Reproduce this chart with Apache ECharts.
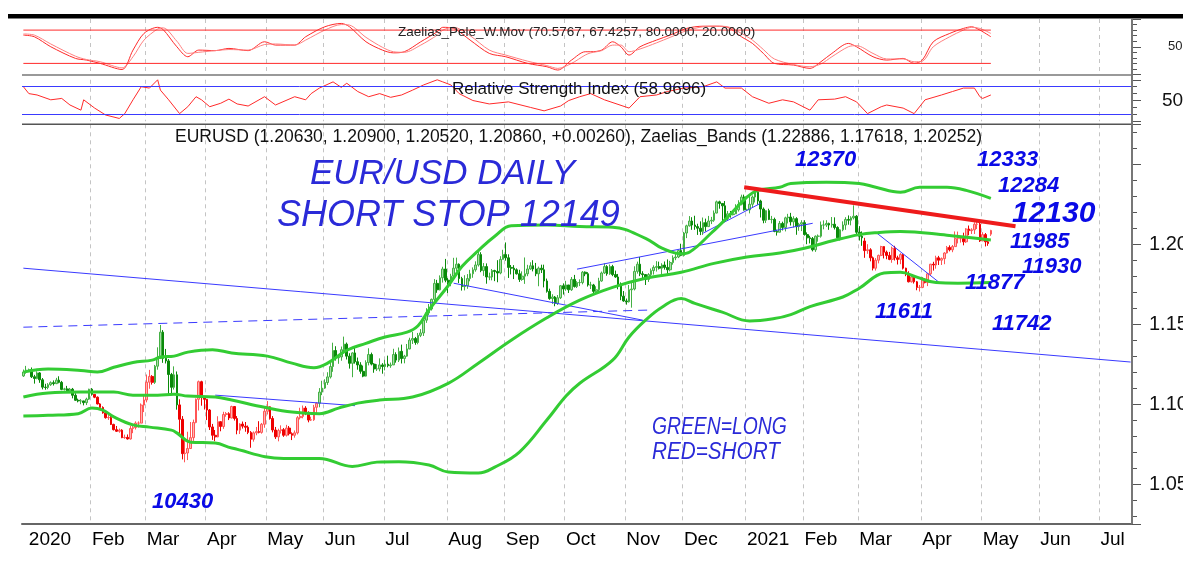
<!DOCTYPE html>
<html>
<head>
<meta charset="utf-8">
<script src="https://cdn.jsdelivr.net/npm/echarts@6.0.0/dist/echarts.min.js"></script>
<style>
  html, body { margin: 0; background: #fff; }
  #chart { width: 1183px; height: 566px; }
</style>
</head>
<body>
<div id="chart"></div>
<script>
// weekday categories, 30 Dec 2019 .. 16 Jul 2021
const days = []
for (let t = Date.UTC(2019, 11, 30); t <= Date.UTC(2021, 6, 16); t += 86400000) {
    const d = new Date(t)
    if (d.getUTCDay() % 6 !== 0) days.push(d.toISOString().slice(0, 10))
}

const monthNames = ['Jan', 'Feb', 'Mar', 'Apr', 'May', 'Jun', 'Jul', 'Aug', 'Sep', 'Oct', 'Nov', 'Dec']

// daily candles in pips: date, open, close, low, high
const candles = [
    ['2019-12-30',11176,11201,11170,11216],['2019-12-31',11201,11213,11190,11239],
    ['2020-01-01',11213,11215,11205,11222],['2020-01-02',11215,11171,11163,11229],['2020-01-03',11171,11160,11128,11183],
    ['2020-01-06',11160,11195,11155,11205],['2020-01-07',11195,11152,11133,11200],['2020-01-08',11152,11106,11092,11163],
    ['2020-01-09',11106,11104,11090,11127],['2020-01-10',11104,11121,11093,11131],['2020-01-13',11121,11134,11114,11142],
    ['2020-01-14',11134,11128,11116,11148],['2020-01-15',11128,11150,11125,11164],['2020-01-16',11150,11136,11130,11174],
    ['2020-01-17',11136,11092,11087,11145],['2020-01-20',11092,11095,11085,11102],['2020-01-21',11095,11083,11075,11114],
    ['2020-01-22',11083,11093,11076,11101],['2020-01-23',11093,11055,11036,11101],['2020-01-24',11055,11024,11020,11068],
    ['2020-01-27',11024,11020,11011,11034],['2020-01-28',11020,11020,10999,11031],['2020-01-29',11020,11009,10992,11019],
    ['2020-01-30',11009,11031,10994,11040],['2020-01-31',11031,11093,11026,11096],
    ['2020-02-03',11093,11061,11053,11100],['2020-02-04',11061,11043,11037,11063],['2020-02-05',11043,11001,10998,11048],
    ['2020-02-06',11001,10979,10966,11006],['2020-02-07',10979,10945,10940,10986],['2020-02-10',10945,10915,10909,10954],
    ['2020-02-11',10915,10916,10901,10933],['2020-02-12',10916,10873,10869,10925],['2020-02-13',10873,10840,10835,10877],
    ['2020-02-14',10840,10830,10826,10863],['2020-02-17',10830,10837,10821,10847],['2020-02-18',10837,10790,10787,10843],
    ['2020-02-19',10790,10792,10783,10809],['2020-02-20',10792,10782,10778,10810],['2020-02-21',10782,10847,10778,10864],
    ['2020-02-24',10847,10853,10818,10868],['2020-02-25',10853,10881,10841,10892],['2020-02-26',10881,10881,10853,10892],
    ['2020-02-27',10881,10994,10880,11004],['2020-02-28',10994,11026,10950,11054],
    ['2020-03-02',11026,11137,11011,11185],['2020-03-03',11137,11173,11096,11214],['2020-03-04',11173,11136,11122,11181],
    ['2020-03-05',11136,11237,11126,11245],['2020-03-06',11237,11285,11215,11355],['2020-03-09',11285,11450,11285,11495],
    ['2020-03-10',11450,11286,11258,11463],['2020-03-11',11286,11270,11254,11345],['2020-03-12',11270,11185,11056,11282],
    ['2020-03-13',11185,11105,11055,11195],['2020-03-16',11105,11183,11091,11236],['2020-03-17',11183,10995,10965,11204],
    ['2020-03-18',10995,10905,10802,11030],['2020-03-19',10905,10690,10654,10925],['2020-03-20',10690,10694,10636,10783],
    ['2020-03-23',10694,10722,10650,10827],['2020-03-24',10722,10790,10723,10888],['2020-03-25',10790,10885,10770,10903],
    ['2020-03-26',10885,11030,10880,11035],['2020-03-27',11030,11140,10960,11147],['2020-03-30',11140,11043,10990,11146],
    ['2020-03-31',11043,11030,10966,11048],
    ['2020-04-01',11030,10963,10900,11032],['2020-04-02',10963,10857,10838,10969],['2020-04-03',10857,10805,10776,10876],
    ['2020-04-06',10805,10795,10768,10838],['2020-04-07',10795,10890,10792,10924],['2020-04-08',10890,10860,10830,10892],
    ['2020-04-09',10860,10935,10845,10952],['2020-04-10',10935,10940,10921,10950],['2020-04-13',10940,10913,10900,10949],
    ['2020-04-14',10913,10985,10911,10990],['2020-04-15',10985,10910,10897,10987],['2020-04-16',10910,10837,10811,10925],
    ['2020-04-17',10837,10875,10813,10880],['2020-04-20',10875,10862,10847,10891],['2020-04-21',10862,10855,10827,10888],
    ['2020-04-22',10855,10823,10812,10866],['2020-04-23',10823,10780,10727,10831],['2020-04-24',10780,10820,10765,10829],
    ['2020-04-27',10820,10828,10805,10857],['2020-04-28',10828,10823,10817,10893],['2020-04-29',10823,10874,10815,10882],
    ['2020-04-30',10874,10955,10852,10974],
    ['2020-05-01',10955,10983,10935,11019],['2020-05-04',10983,10910,10903,10986],['2020-05-05',10910,10838,10823,10925],
    ['2020-05-06',10838,10795,10782,10857],['2020-05-07',10795,10835,10767,10846],['2020-05-08',10835,10840,10816,10867],
    ['2020-05-11',10840,10805,10795,10850],['2020-05-12',10805,10850,10797,10870],['2020-05-13',10850,10815,10804,10863],
    ['2020-05-14',10815,10805,10775,10823],['2020-05-15',10805,10820,10790,10835],['2020-05-18',10820,10915,10810,10925],
    ['2020-05-19',10915,10923,10904,10977],['2020-05-20',10923,10975,10911,10991],['2020-05-21',10975,10945,10931,10987],
    ['2020-05-22',10945,10900,10886,10955],['2020-05-25',10900,10902,10894,10921],['2020-05-26',10902,10980,10895,10995],
    ['2020-05-27',10980,11005,10944,11012],['2020-05-28',11005,11075,10980,11100],['2020-05-29',11075,11100,11056,11146],
    ['2020-06-01',11100,11135,11095,11155],['2020-06-02',11135,11170,11120,11199],['2020-06-03',11170,11235,11160,11257],
    ['2020-06-04',11235,11335,11202,11384],['2020-06-05',11335,11290,11272,11362],['2020-06-08',11290,11295,11252,11311],
    ['2020-06-09',11295,11340,11271,11360],['2020-06-10',11340,11375,11316,11422],['2020-06-11',11375,11300,11279,11385],
    ['2020-06-12',11300,11255,11222,11318],['2020-06-15',11255,11320,11168,11324],['2020-06-16',11320,11265,11253,11355],
    ['2020-06-17',11265,11245,11215,11291],['2020-06-18',11245,11205,11190,11262],['2020-06-19',11205,11175,11168,11241],
    ['2020-06-22',11175,11260,11172,11274],['2020-06-23',11260,11310,11242,11349],['2020-06-24',11310,11250,11242,11322],
    ['2020-06-25',11250,11220,11196,11256],['2020-06-26',11220,11220,11207,11250],['2020-06-29',11220,11245,11205,11286],
    ['2020-06-30',11245,11235,11190,11256],
    ['2020-07-01',11235,11250,11211,11277],['2020-07-02',11250,11240,11230,11303],['2020-07-03',11240,11245,11227,11260],
    ['2020-07-06',11245,11310,11245,11346],['2020-07-07',11310,11275,11259,11324],['2020-07-08',11275,11330,11263,11354],
    ['2020-07-09',11330,11285,11254,11372],['2020-07-10',11285,11300,11255,11308],['2020-07-13',11300,11345,11296,11376],
    ['2020-07-14',11345,11400,11343,11415],['2020-07-15',11400,11410,11376,11452],['2020-07-16',11410,11385,11371,11420],
    ['2020-07-17',11385,11430,11374,11445],['2020-07-20',11430,11445,11419,11469],['2020-07-21',11445,11525,11426,11547],
    ['2020-07-22',11525,11570,11508,11600],['2020-07-23',11570,11595,11555,11626],['2020-07-24',11595,11655,11585,11660],
    ['2020-07-27',11655,11755,11640,11782],['2020-07-28',11755,11715,11696,11777],['2020-07-29',11715,11790,11711,11805],
    ['2020-07-30',11790,11845,11760,11859],['2020-07-31',11845,11775,11762,11908],
    ['2020-08-03',11775,11760,11695,11788],['2020-08-04',11760,11800,11737,11815],['2020-08-05',11800,11850,11795,11915],
    ['2020-08-06',11850,11875,11830,11916],['2020-08-07',11875,11785,11757,11880],['2020-08-10',11785,11735,11710,11796],
    ['2020-08-11',11735,11740,11711,11806],['2020-08-12',11740,11785,11721,11813],['2020-08-13',11785,11815,11768,11840],
    ['2020-08-14',11815,11840,11790,11855],['2020-08-17',11840,11870,11828,11893],['2020-08-18',11870,11935,11860,11966],
    ['2020-08-19',11935,11835,11825,11950],['2020-08-20',11835,11860,11802,11882],['2020-08-21',11860,11795,11753,11880],
    ['2020-08-24',11795,11795,11775,11822],['2020-08-25',11795,11835,11774,11845],['2020-08-26',11835,11830,11769,11840],
    ['2020-08-27',11830,11820,11762,11900],['2020-08-28',11820,11905,11812,11925],['2020-08-31',11905,11935,11905,11965],
    ['2020-09-01',11935,11915,11897,12011],['2020-09-02',11915,11855,11789,11937],['2020-09-03',11855,11850,11811,11870],
    ['2020-09-04',11850,11840,11782,11869],['2020-09-07',11840,11815,11810,11849],['2020-09-08',11815,11780,11764,11840],
    ['2020-09-09',11780,11800,11771,11830],['2020-09-10',11800,11815,11752,11917],['2020-09-11',11815,11845,11800,11871],
    ['2020-09-14',11845,11865,11840,11887],['2020-09-15',11865,11845,11830,11900],['2020-09-16',11845,11815,11800,11883],
    ['2020-09-17',11815,11850,11737,11860],['2020-09-18',11850,11840,11820,11872],['2020-09-21',11840,11770,11730,11872],
    ['2020-09-22',11770,11705,11697,11785],['2020-09-23',11705,11660,11652,11722],['2020-09-24',11660,11670,11627,11687],
    ['2020-09-25',11670,11630,11612,11676],['2020-09-28',11630,11665,11620,11682],['2020-09-29',11665,11740,11657,11745],
    ['2020-09-30',11740,11720,11685,11755],
    ['2020-10-01',11720,11745,11709,11771],['2020-10-02',11745,11715,11695,11738],['2020-10-05',11715,11780,11708,11795],
    ['2020-10-06',11780,11735,11729,11808],['2020-10-07',11735,11760,11726,11769],['2020-10-08',11760,11760,11738,11780],
    ['2020-10-09',11760,11825,11749,11832],['2020-10-12',11825,11815,11800,11830],['2020-10-13',11815,11745,11735,11825],
    ['2020-10-14',11745,11745,11720,11765],['2020-10-15',11745,11705,11688,11752],['2020-10-16',11705,11715,11690,11737],
    ['2020-10-19',11715,11770,11706,11790],['2020-10-20',11770,11820,11765,11829],['2020-10-21',11820,11860,11814,11880],
    ['2020-10-22',11860,11815,11803,11869],['2020-10-23',11815,11860,11809,11873],['2020-10-26',11860,11810,11800,11871],
    ['2020-10-27',11810,11795,11790,11835],['2020-10-28',11795,11745,11718,11814],['2020-10-29',11745,11675,11650,11761],
    ['2020-10-30',11675,11645,11640,11707],
    ['2020-11-02',11645,11640,11622,11660],['2020-11-03',11640,11715,11635,11745],['2020-11-04',11715,11720,11603,11770],
    ['2020-11-05',11720,11830,11711,11862],['2020-11-06',11830,11875,11816,11891],['2020-11-09',11875,11815,11800,11920],
    ['2020-11-10',11815,11810,11780,11831],['2020-11-11',11810,11780,11745,11812],['2020-11-12',11780,11810,11764,11819],
    ['2020-11-13',11810,11835,11797,11848],['2020-11-16',11835,11855,11810,11868],['2020-11-17',11855,11860,11829,11894],
    ['2020-11-18',11860,11850,11842,11891],['2020-11-19',11850,11870,11800,11881],['2020-11-20',11870,11855,11841,11892],
    ['2020-11-23',11855,11840,11802,11905],['2020-11-24',11840,11885,11830,11896],['2020-11-25',11885,11915,11872,11930],
    ['2020-11-26',11915,11920,11900,11941],['2020-11-27',11920,11960,11913,11965],['2020-11-30',11960,11930,11925,12003],
    ['2020-12-01',11930,12070,11923,12077],['2020-12-02',12070,12115,12038,12122],['2020-12-03',12115,12145,12110,12176],
    ['2020-12-04',12145,12120,12090,12169],['2020-12-07',12120,12110,12090,12178],['2020-12-08',12110,12100,12058,12128],
    ['2020-12-09',12100,12080,12057,12143],['2020-12-10',12080,12135,12058,12167],['2020-12-11',12135,12110,12080,12160],
    ['2020-12-14',12110,12145,12110,12177],['2020-12-15',12145,12150,12126,12171],['2020-12-16',12150,12195,12140,12211],
    ['2020-12-17',12195,12265,12193,12273],['2020-12-18',12265,12255,12222,12272],['2020-12-21',12255,12240,12130,12251],
    ['2020-12-22',12240,12160,12153,12270],['2020-12-23',12160,12190,12152,12208],['2020-12-24',12190,12185,12166,12208],
    ['2020-12-25',12185,12190,12180,12196],['2020-12-28',12190,12215,12192,12250],['2020-12-29',12215,12250,12204,12275],
    ['2020-12-30',12250,12295,12243,12310],['2020-12-31',12295,12215,12210,12310],
    ['2021-01-01',12215,12215,12208,12222],['2021-01-04',12215,12250,12193,12310],['2021-01-05',12250,12295,12231,12305],
    ['2021-01-06',12295,12325,12261,12349],['2021-01-07',12325,12270,12247,12340],['2021-01-08',12270,12220,12167,12278],
    ['2021-01-11',12220,12150,12131,12230],['2021-01-12',12150,12210,12133,12212],['2021-01-13',12210,12155,12151,12222],
    ['2021-01-14',12155,12155,12130,12177],['2021-01-15',12155,12080,12075,12166],['2021-01-18',12080,12075,12054,12091],
    ['2021-01-19',12075,12130,12075,12145],['2021-01-20',12130,12105,12086,12141],['2021-01-21',12105,12165,12080,12172],
    ['2021-01-22',12165,12170,12130,12190],['2021-01-25',12170,12140,12117,12196],['2021-01-26',12140,12160,12105,12175],
    ['2021-01-27',12160,12110,12059,12169],['2021-01-28',12110,12125,12084,12134],['2021-01-29',12125,12135,12082,12150],
    ['2021-02-01',12135,12060,12054,12150],['2021-02-02',12060,12040,12000,12074],['2021-02-03',12040,12035,12005,12053],
    ['2021-02-04',12035,11965,11955,12045],['2021-02-05',11965,12050,11952,12055],['2021-02-08',12050,12050,12016,12061],
    ['2021-02-09',12050,12120,12041,12142],['2021-02-10',12120,12120,12093,12149],['2021-02-11',12120,12130,12108,12150],
    ['2021-02-12',12130,12120,12090,12135],['2021-02-15',12120,12125,12104,12170],['2021-02-16',12125,12105,12092,12168],
    ['2021-02-17',12105,12040,12022,12112],['2021-02-18',12040,12090,12023,12094],['2021-02-19',12090,12120,12081,12143],
    ['2021-02-22',12120,12155,12090,12169],['2021-02-23',12155,12150,12122,12180],['2021-02-24',12150,12165,12118,12175],
    ['2021-02-25',12165,12175,12155,12243],['2021-02-26',12175,12075,12064,12182],
    ['2021-03-01',12075,12050,12023,12113],['2021-03-02',12050,12040,11990,12080],['2021-03-03',12020,11960,11915,12040],
    ['2021-03-04',11960,11965,11940,12000],['2021-03-05',11965,11915,11893,11975],['2021-03-08',11915,11850,11836,11923],
    ['2021-03-09',11850,11900,11835,11913],['2021-03-10',11900,11930,11880,11935],['2021-03-11',11930,11985,11925,11990],
    ['2021-03-12',11985,11950,11911,11988],['2021-03-15',11950,11930,11906,11960],['2021-03-16',11930,11905,11900,11952],
    ['2021-03-17',11905,11975,11884,11985],['2021-03-18',11975,11915,11898,11990],['2021-03-19',11915,11905,11873,11928],
    ['2021-03-22',11905,11935,11875,11944],['2021-03-23',11935,11850,11842,11940],['2021-03-24',11850,11815,11800,11853],
    ['2021-03-25',11815,11765,11761,11831],['2021-03-26',11765,11795,11760,11803],['2021-03-29',11795,11765,11754,11800],
    ['2021-03-30',11765,11730,11712,11770],['2021-03-31',11730,11730,11704,11745],
    ['2021-04-01',11730,11780,11725,11795],['2021-04-02',11780,11760,11755,11787],['2021-04-05',11760,11815,11738,11820],
    ['2021-04-06',11815,11875,11808,11877],['2021-04-07',11875,11870,11835,11890],['2021-04-08',11870,11915,11847,11928],
    ['2021-04-09',11915,11900,11870,11927],['2021-04-12',11900,11910,11870,11917],['2021-04-13',11910,11945,11875,11950],
    ['2021-04-14',11945,11980,11942,11989],['2021-04-15',11980,11965,11955,11993],['2021-04-16',11965,11985,11950,11995],
    ['2021-04-19',11985,12035,11985,12080],['2021-04-20',12035,12035,12005,12079],['2021-04-21',12035,12035,12010,12048],
    ['2021-04-22',12035,12015,11993,12072],['2021-04-23',12015,12095,12008,12100],['2021-04-26',12095,12085,12056,12117],
    ['2021-04-27',12085,12090,12064,12100],['2021-04-28',12090,12125,12064,12137],['2021-04-29',12125,12125,12095,12150],
    ['2021-04-30',12125,12020,12014,12135],
    ['2021-05-03',12020,12060,12020,12075],['2021-05-04',12060,12015,11986,12070],['2021-05-05',12015,12005,11990,12030],
    ['2021-05-06',12063,12086,12052,12090]
]

// signal regime, each from its start date until the next one
const regimes = [
    ['2019-12-30', 'long'], ['2020-02-04', 'short'], ['2020-03-05', 'long'],
    ['2020-03-18', 'short'], ['2020-05-28', 'long'], ['2021-03-03', 'short']
]

const upperBand = [
    ['2019-12-30',1.1200],['2020-01-10',1.1219],['2020-01-28',1.1210],['2020-02-05',1.1200],['2020-02-13',1.1230],
    ['2020-02-24',1.1260],['2020-03-04',1.1275],['2020-03-09',1.1294],['2020-03-16',1.1300],['2020-03-23',1.1325],
    ['2020-04-03',1.1340],['2020-04-14',1.1320],['2020-05-01',1.1300],['2020-05-14',1.1256],['2020-05-26',1.1228],
    ['2020-06-02',1.1256],['2020-06-11',1.1337],['2020-06-22',1.1380],['2020-07-01',1.1420],['2020-07-13',1.1450],
    ['2020-07-17',1.1490],['2020-07-23',1.1590],['2020-08-03',1.1740],['2020-08-10',1.1860],['2020-08-18',1.1960],
    ['2020-08-26',1.2050],['2020-09-03',1.2115],['2020-09-22',1.2120],['2020-10-08',1.2110],['2020-10-26',1.2106],
    ['2020-11-11',1.2037],['2020-11-19',1.1975],['2020-11-30',1.1940],['2020-12-03',1.1950],['2020-12-15',1.2070],
    ['2020-12-23',1.2170],['2021-01-01',1.2294],['2021-01-07',1.2337],['2021-01-19',1.2356],['2021-01-25',1.2380],
    ['2021-02-11',1.2387],['2021-03-01',1.2380],['2021-03-09',1.2356],['2021-03-22',1.2325],['2021-03-31',1.2356],
    ['2021-04-14',1.2356],['2021-04-23',1.2337],['2021-05-06',1.2287]
]
const middleBand = [
    ['2019-12-30',1.1044],['2020-01-10',1.1070],['2020-01-28',1.1075],['2020-02-13',1.1075],['2020-02-24',1.1056],
    ['2020-03-06',1.1056],['2020-03-16',1.1062],['2020-03-23',1.1050],['2020-04-06',1.1044],['2020-04-14',1.1025],
    ['2020-04-30',1.0980],['2020-05-14',1.0950],['2020-05-28',1.0940],['2020-06-08',1.0975],['2020-06-17',1.1006],
    ['2020-06-29',1.1025],['2020-07-15',1.1044],['2020-08-03',1.1130],['2020-08-18',1.1256],['2020-09-03',1.1400],
    ['2020-09-22',1.1540],['2020-10-08',1.1650],['2020-10-26',1.1730],['2020-11-11',1.1787],['2020-11-30',1.1825],
    ['2020-12-16',1.1880],['2021-01-01',1.1920],['2021-01-19',1.1945],['2021-02-01',1.1975],['2021-02-16',1.2025],
    ['2021-03-01',1.2060],['2021-03-09',1.2072],['2021-03-22',1.2080],['2021-04-14',1.2056],['2021-05-06',1.2027]
]
const lowerBand = [
    ['2019-12-30',1.0925],['2020-01-10',1.0930],['2020-01-27',1.0940],['2020-02-03',1.0975],['2020-02-07',1.0962],
    ['2020-02-13',1.0920],['2020-02-24',1.0870],['2020-03-03',1.0856],['2020-03-13',1.0837],['2020-03-17',1.0820],
    ['2020-03-24',1.0762],['2020-04-06',1.0756],['2020-04-14',1.0725],['2020-05-11',1.0660],['2020-05-28',1.0660],
    ['2020-06-15',1.0610],['2020-06-26',1.0637],['2020-07-08',1.0640],['2020-07-23',1.0619],['2020-08-03',1.0575],
    ['2020-08-18',1.0569],['2020-08-26',1.0606],['2020-09-08',1.0700],['2020-09-22',1.0900],['2020-10-01',1.1050],
    ['2020-10-08',1.1130],['2020-10-26',1.1275],['2020-11-03',1.1420],['2020-11-11',1.1525],['2020-11-19',1.1606],
    ['2020-11-30',1.1660],['2020-12-07',1.1630],['2020-12-21',1.1575],['2021-01-04',1.1520],['2021-01-15',1.1535],
    ['2021-01-25',1.1560],['2021-02-03',1.1610],['2021-02-19',1.1670],['2021-03-01',1.1725],['2021-03-12',1.1820],
    ['2021-03-22',1.1825],['2021-03-30',1.1794],['2021-04-08',1.1760],['2021-04-20',1.1756],['2021-05-06',1.1760]
]

// hand-drawn lines: start and end points
const blueLines = [
    [['2019-12-30',1.1850],['2021-07-16',1.1263]],
    [['2020-04-06',1.1056],['2020-06-16',1.0990]],
    [['2020-08-05',1.1756],['2020-11-10',1.1525]],
    [['2020-10-07',1.1844],['2021-02-04',1.2131]],
    [['2020-12-10',1.2069],['2021-01-08',1.2256]],
    [['2021-03-09',1.2075],['2021-04-09',1.1763]]
]
const dashedLine = [['2019-12-30',1.1481],['2020-11-12',1.1588]]
const redLine = [['2020-12-31',1.2356],['2021-05-19',1.2112]]

// Zaelias_Pele_W.Mov panel
const waveFast = [
    ['2019-12-30',71],['2020-01-03',68],['2020-01-13',50],['2020-01-24',29],['2020-01-30',26],['2020-02-06',20],
    ['2020-02-18',9],['2020-02-24',44],['2020-02-28',74],['2020-03-06',85],['2020-03-10',81],['2020-03-17',50],
    ['2020-03-23',32],['2020-03-27',44],['2020-04-06',43],['2020-04-13',47],['2020-04-22',43],['2020-04-30',59],
    ['2020-05-06',53],['2020-05-15',53],['2020-05-21',68],['2020-06-01',86],['2020-06-09',92],['2020-06-12',86],
    ['2020-06-22',59],['2020-06-30',44],['2020-07-06',39],['2020-07-10',41],['2020-07-20',59],['2020-07-28',77],
    ['2020-07-30',85],['2020-08-05',83],['2020-08-13',62],['2020-08-24',38],['2020-09-01',32],['2020-09-11',20],
    ['2020-09-22',14],['2020-09-28',8],['2020-10-05',26],['2020-10-12',41],['2020-10-14',41],['2020-10-20',44],
    ['2020-10-26',59],['2020-10-29',50],['2020-11-03',35],['2020-11-09',50],['2020-11-17',62],['2020-11-24',71],
    ['2020-12-02',83],['2020-12-10',87],['2020-12-17',87],['2020-12-23',85],['2020-12-30',68],['2021-01-05',56],
    ['2021-01-11',38],['2021-01-15',20],['2021-01-26',17],['2021-02-03',11],['2021-02-09',23],['2021-02-15',38],
    ['2021-02-23',56],['2021-02-26',50],['2021-03-08',32],['2021-03-15',26],['2021-03-23',29],['2021-03-29',20],
    ['2021-04-01',26],['2021-04-07',59],['2021-04-15',74],['2021-04-22',83],['2021-04-27',86],['2021-04-30',80],
    ['2021-05-06',68]
]
const waveSlow = [
    ['2019-12-30',73],['2020-01-03',71],['2020-01-13',55],['2020-01-24',33],['2020-01-30',27],['2020-02-06',23],
    ['2020-02-18',12],['2020-02-24',32],['2020-02-28',62],['2020-03-06',82],['2020-03-10',84],['2020-03-17',60],
    ['2020-03-23',38],['2020-03-27',40],['2020-04-06',43],['2020-04-13',45],['2020-04-22',44],['2020-04-30',54],
    ['2020-05-06',55],['2020-05-15',53],['2020-05-21',62],['2020-06-01',80],['2020-06-09',90],['2020-06-12',89],
    ['2020-06-22',67],['2020-06-30',49],['2020-07-06',41],['2020-07-10',40],['2020-07-20',53],['2020-07-28',71],
    ['2020-07-30',80],['2020-08-05',85],['2020-08-13',70],['2020-08-24',44],['2020-09-01',35],['2020-09-11',24],
    ['2020-09-22',16],['2020-09-28',11],['2020-10-05',20],['2020-10-12',35],['2020-10-14',39],['2020-10-20',43],
    ['2020-10-26',53],['2020-10-29',53],['2020-11-03',41],['2020-11-09',46],['2020-11-17',57],['2020-11-24',67],
    ['2020-12-02',79],['2020-12-10',86],['2020-12-17',87],['2020-12-23',86],['2020-12-30',74],['2021-01-05',62],
    ['2021-01-11',45],['2021-01-15',28],['2021-01-26',18],['2021-02-03',14],['2021-02-09',19],['2021-02-15',32],
    ['2021-02-23',50],['2021-02-26',52],['2021-03-08',38],['2021-03-15',28],['2021-03-23',28],['2021-03-29',23],
    ['2021-04-01',24],['2021-04-07',50],['2021-04-15',68],['2021-04-22',80],['2021-04-27',85],['2021-04-30',83],
    ['2021-05-06',74]
]
const waveLevels = [80, 20]

// Relative Strength Index panel
const rsi = [
    ['2019-12-30',70],['2020-01-01',60],['2020-01-06',58],['2020-01-13',51],['2020-01-17',53],['2020-01-22',43.5],
    ['2020-01-28',36],['2020-01-29',51],['2020-02-04',39],['2020-02-10',29],['2020-02-17',24],['2020-02-19',31],
    ['2020-02-24',51],['2020-02-27',70],['2020-03-03',68],['2020-03-06',80],['2020-03-09',65],['2020-03-12',51],
    ['2020-03-18',31],['2020-03-23',41],['2020-03-26',55.5],['2020-03-30',51],['2020-04-02',41],['2020-04-08',46],
    ['2020-04-13',52],['2020-04-16',45],['2020-04-22',42],['2020-04-30',55.5],['2020-05-06',43.5],['2020-05-15',55.5],
    ['2020-05-21',51],['2020-05-25',60],['2020-05-28',68],['2020-06-04',77],['2020-06-09',69],['2020-06-11',75],
    ['2020-06-17',63],['2020-06-23',55.5],['2020-06-29',60],['2020-07-03',54.6],['2020-07-09',58],['2020-07-15',65],
    ['2020-07-21',72.5],['2020-07-28',80],['2020-07-30',77],['2020-08-04',72.5],['2020-08-07',60],['2020-08-14',50],
    ['2020-08-24',45],['2020-09-02',48],['2020-09-14',40],['2020-09-21',35],['2020-09-29',42],['2020-10-02',50],
    ['2020-10-08',55.5],['2020-10-14',60],['2020-10-21',51],['2020-11-03',39],['2020-11-09',55.5],['2020-11-17',58],
    ['2020-11-23',63],['2020-12-01',68],['2020-12-10',70],['2020-12-17',77],['2020-12-22',68],['2020-12-30',68],
    ['2021-01-05',55.5],['2021-01-13',46],['2021-01-20',51],['2021-01-26',48],['2021-02-03',36],['2021-02-08',51],
    ['2021-02-16',52],['2021-02-22',55.5],['2021-02-26',48],['2021-03-04',31],['2021-03-11',41],['2021-03-15',43.5],
    ['2021-03-23',39],['2021-03-29',31],['2021-04-02',51],['2021-04-12',58],['2021-04-16',63],['2021-04-22',68],
    ['2021-04-28',68],['2021-04-30',55.5],['2021-05-03',53],['2021-05-06',58]
]
const rsiLevels = [70, 30]

// price labels shown on the main axis
const priceTicks = [1.05, 1.10, 1.15, 1.20]

// ---- build ----
const regimeOf = date => {
    let r = regimes[0][1]
    regimes.forEach(([d, s]) => { if (date >= d) r = s })
    return r
}
const longData = days.map(() => '-')
const shortData = days.map(() => '-')
candles.forEach(([d, o, c, l, h]) => {
    const i = days.indexOf(d)
    if (i < 0) return
    const v = [o, c, l, h].map(x => x / 10000)
    if (regimeOf(d) === 'long') longData[i] = v
    else shortData[i] = v
})
const firstDay = candles[0][0]
const lastDay = candles[candles.length - 1][0]

const isMonthStart = i => i > 0 && days[i].slice(0, 7) !== days[i - 1].slice(0, 7)
const isMonday = i => new Date(days[i] + 'T00:00:00Z').getUTCDay() === 1
const monthLabel = d => d.slice(5, 7) === '01' ? d.slice(0, 4) : monthNames[+d.slice(5, 7) - 1]

const SANS = '"Liberation Sans", Arial, sans-serif'
const NARROW = '"Liberation Sans Narrow", "Arial Narrow", "Liberation Sans", sans-serif'
const monthSplit = {
    show: true, interval: isMonthStart, showMinLine: false, showMaxLine: false,
    lineStyle: { color: '#c4c4c4', type: [4, 4], width: 1 }
}

const panelX = gridIndex => ({
    type: 'category', gridIndex, data: days,
    axisLine: { show: false }, axisTick: { show: false }, axisLabel: { show: false },
    splitLine: monthSplit
})
const rightY = (gridIndex, extra) => Object.assign({
    type: 'value', gridIndex, position: 'right', scale: true,
    splitLine: { show: false },
    axisLine: { show: false },
    axisTick: { show: true, length: 9, lineStyle: { color: '#555' } },
    minorTick: { show: true, length: 5, lineStyle: { color: '#555' } }
}, extra)

const line = (data, color, width, extra) => Object.assign({
    type: 'line', xAxisIndex: 2, yAxisIndex: 2, data, symbol: 'none', silent: true,
    lineStyle: { color, width }, z: 4
}, extra)

const series = [
    {
        type: 'candlestick', xAxisIndex: 2, yAxisIndex: 2, data: longData, barWidth: 2.2, z: 2,
        itemStyle: { color: '#a8dca8', color0: '#0a8a0a', borderColor: '#44b044', borderColor0: '#0a8a0a', borderWidth: 1 }
    },
    {
        type: 'candlestick', xAxisIndex: 2, yAxisIndex: 2, data: shortData, barWidth: 2.2, z: 2,
        itemStyle: { color: '#ffb4b4', color0: '#ee0000', borderColor: '#ff5555', borderColor0: '#ee0000', borderWidth: 1 }
    },
    line(upperBand, '#33cc33', 3, { smooth: 0.4 }),
    line(middleBand, '#33cc33', 3, { smooth: 0.4 }),
    line(lowerBand, '#33cc33', 3, { smooth: 0.4 }),
    ...blueLines.map(pts => line(pts, '#3a3aff', 1, { z: 3 })),
    line(dashedLine, '#3a3aff', 1, { z: 3, lineStyle: { color: '#3a3aff', width: 1, type: [9, 6] } }),
    line(redLine, '#ee1b1b', 4, { z: 5 }),
    // top panel
    line(waveFast, '#ff2a2a', 1, { xAxisIndex: 0, yAxisIndex: 0, smooth: 0.3, clip: false }),
    line(waveSlow, '#ff8080', 1, { xAxisIndex: 0, yAxisIndex: 0, smooth: 0.3, clip: false }),
    ...waveLevels.map(v => line([[firstDay, v], [lastDay, v]], '#ff2a2a', 1, { xAxisIndex: 0, yAxisIndex: 0 })),
    // RSI panel
    line(rsi, '#ff2a2a', 1, {
        xAxisIndex: 1, yAxisIndex: 1, clip: false,
        markLine: {
            silent: true, symbol: ['none', 'none'], label: { show: false },
            lineStyle: { color: '#3a3aff', width: 1, type: 'solid' },
            data: rsiLevels.map(v => ({ yAxis: v }))
        }
    })
]

const txt = (text, x, y, font, fill, extra) => Object.assign({
    type: 'text', x, y, z: 100, silent: true,
    style: { text, font, fill, align: 'left', textAlign: 'left', verticalAlign: 'middle', textVerticalAlign: 'middle' }
}, extra)
const NUM = 'italic bold 22px ' + SANS
const BLUE = '#0a0ae6'
const HAND = '#2a2ad8'

const panelGrid = (top, height) => ({ left: 22, top, width: 1110, height, outerBoundsMode: 'none', containLabel: false })

const chart = echarts.init(document.getElementById('chart'))
chart.setOption({
    animation: false,
    backgroundColor: '#fff',
    grid: [panelGrid(19, 55.5), panelGrid(79.8, 41.4), panelGrid(124.3, 399.7)],
    xAxis: [
        panelX(0),
        panelX(1),
        {
            type: 'category', gridIndex: 2, data: days,
            axisLine: { lineStyle: { color: '#666', width: 2 } },
            axisTick: { interval: isMonthStart, length: 26, lineStyle: { color: '#333' } },
            axisLabel: {
                interval: isMonthStart, formatter: monthLabel, align: 'left', margin: 6,
                fontSize: 19, color: '#000', fontFamily: NARROW
            },
            splitLine: monthSplit
        },
        {
            type: 'category', gridIndex: 2, data: days,
            axisLine: { show: false },
            axisTick: { interval: isMonday, length: 9, lineStyle: { color: '#555' } },
            axisLabel: { show: false }, splitLine: { show: false }
        }
    ],
    yAxis: [
        rightY(0, {
            min: 0, max: 100, interval: 50, minorTick: { show: true, splitNumber: 5, length: 5, lineStyle: { color: '#555' } },
            axisLabel: { formatter: v => v === 50 ? '50' : '', margin: 36, fontSize: 13, color: '#222', fontFamily: SANS }
        }),
        rightY(1, {
            min: 20, max: 80, interval: 30, minorTick: { show: true, splitNumber: 3, length: 5, lineStyle: { color: '#555' } },
            axisLabel: { formatter: v => v === 50 ? '50' : '', margin: 30, fontSize: 19, color: '#111', fontFamily: SANS }
        }),
        rightY(2, {
            min: 1.025, max: 1.275, splitNumber: 5,
            minorTick: { show: true, splitNumber: 5, length: 5, lineStyle: { color: '#555' } },
            axisLabel: {
                formatter: v => priceTicks.some(p => Math.abs(p - v) < 1e-6) ? v.toFixed(2) : '',
                margin: 17, fontSize: 20, color: '#111', fontFamily: SANS
            }
        })
    ],
    series,
    graphic: [
        { type: 'rect', shape: { x: 8, y: 14, width: 1175, height: 4.5 }, style: { fill: '#000' }, z: 90 },
        { type: 'line', shape: { x1: 22, y1: 75, x2: 1132, y2: 75 }, style: { stroke: '#999', lineWidth: 2 }, z: 90 },
        { type: 'line', shape: { x1: 22, y1: 124.3, x2: 1132, y2: 124.3 }, style: { stroke: '#555', lineWidth: 1.5 }, z: 90 },
        { type: 'line', shape: { x1: 1132, y1: 18, x2: 1132, y2: 524 }, style: { stroke: '#777', lineWidth: 2 }, z: 90 },
        txt('Zaelias_Pele_W.Mov (70.5767, 67.4257, 80.0000, 20.0000)', 398, 32, '13.5px ' + SANS, '#222'),
        txt('Relative Strength Index (58.9696)', 452, 89, '17px ' + SANS, '#111'),
        txt('EURUSD (1.20630, 1.20900, 1.20520, 1.20860, +0.00260), Zaelias_Bands (1.22886, 1.17618, 1.20252)',
            175, 137, '17.5px ' + SANS, '#111'),
        txt('EUR/USD DAILY', 310, 174, 'italic 35px ' + SANS, HAND),
        txt('SHORT STOP 12149', 277, 216, 'italic 36px ' + SANS, HAND),
        txt('GREEN=LONG', 652, 428, 'italic 23px ' + SANS, HAND, { scaleX: 0.84 }),
        txt('RED=SHORT', 652, 453, 'italic 23px ' + SANS, HAND, { scaleX: 0.9 }),
        txt('12370', 795, 160, NUM, BLUE),
        txt('12333', 977, 160, NUM, BLUE),
        txt('12284', 998, 186, NUM, BLUE),
        txt('12130', 1012, 214, 'italic bold 30px ' + SANS, BLUE),
        txt('11985', 1010, 242, NUM, BLUE),
        txt('11930', 1022, 267, NUM, BLUE),
        txt('11877', 965, 283, NUM, BLUE),
        txt('11611', 875, 312, NUM, BLUE),
        txt('11742', 992, 324, NUM, BLUE),
        txt('10430', 152, 502, NUM, BLUE)
    ]
})
</script>
</body>
</html>
